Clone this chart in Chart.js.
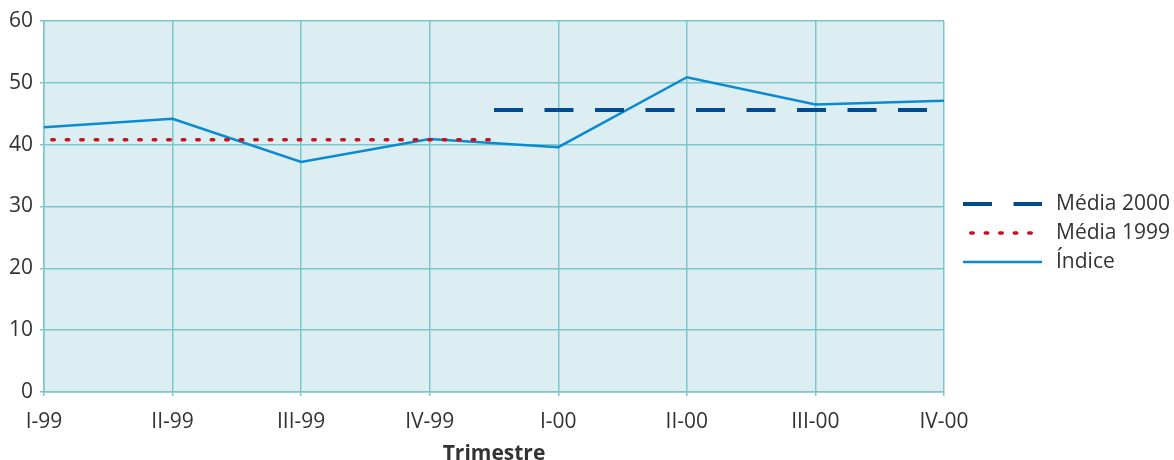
<!DOCTYPE html>
<html>
<head>
<meta charset="utf-8">
<script src="https://cdn.jsdelivr.net/npm/chart.js@4"></script>
<style>
  html, body { margin: 0; padding: 0; background: #ffffff; }
  #wrap { width: 1174px; height: 460px; }
</style>
</head>
<body>
<div id="wrap"><canvas id="chart" width="1174" height="460"></canvas></div>
<script>
/* Índice trimestral 1999-2000 com as médias anuais */

var quarters = ['I-99', 'II-99', 'III-99', 'IV-99', 'I-00', 'II-00', 'III-00', 'IV-00'];
var indice = [42.8, 44.2, 37.2, 40.9, 39.6, 50.9, 46.5, 47.1];
var media1999 = 40.8;
var media2000 = 45.6;
// each average spans its year, split halfway between IV-99 and I-00
var span1999 = [0, 3.5];
var span2000 = [3.5, 7];
var yTicks = [0, 10, 20, 30, 40, 50, 60];

var FONT = '"Open Sans", "DejaVu Sans", sans-serif';
var TEXT = '#333333';
var GRID = '#7cc5ca';

var plotBg = {
  id: 'plotBg',
  beforeDraw: function(chart) {
    var a = chart.chartArea, ctx = chart.ctx;
    ctx.save();
    ctx.fillStyle = '#ddeef2';
    ctx.fillRect(a.left, a.top, a.right - a.left, a.bottom - a.top);
    ctx.restore();
  }
};

// line-sample legend on the right, drawn from each dataset's own style
var sideLegend = {
  id: 'sideLegend',
  afterDraw: function(chart) {
    var ctx = chart.ctx;
    var x0 = 963, len = 79, y0 = 204, step = 29;
    ctx.save();
    chart.data.datasets.forEach(function(ds, i) {
      var y = y0 + i * step;
      ctx.beginPath();
      ctx.strokeStyle = ds.borderColor;
      ctx.lineWidth = ds.borderWidth;
      ctx.lineCap = ds.borderCapStyle || 'butt';
      ctx.setLineDash(ds.borderDash || []);
      ctx.lineDashOffset = ds.borderDashOffset || 0;
      ctx.moveTo(x0, y);
      ctx.lineTo(x0 + len, y);
      ctx.stroke();
      ctx.setLineDash([]);
      ctx.fillStyle = TEXT;
      ctx.font = '21px ' + FONT;
      ctx.textBaseline = 'middle';
      ctx.textAlign = 'left';
      ctx.fillText(ds.label, 1056, y);
    });
    ctx.restore();
  }
};

new Chart(document.getElementById('chart'), {
  type: 'line',
  data: {
    datasets: [
      {
        label: 'Média 2000',
        data: span2000.map(function(x) { return {x: x, y: media2000}; }),
        borderColor: '#004b8d', borderWidth: 4, borderDash: [29, 21.5],
        borderCapStyle: 'butt', pointRadius: 0, fill: false
      },
      {
        label: 'Média 1999',
        data: span1999.map(function(x) { return {x: x, y: media1999}; }),
        borderColor: '#c0141f', borderWidth: 3.5, borderDash: [2.5, 12], borderDashOffset: 6.75,
        borderCapStyle: 'round', pointRadius: 0, fill: false
      },
      {
        label: 'Índice',
        data: indice.map(function(v, i) { return {x: i, y: v}; }),
        borderColor: '#0a8ad2', borderWidth: 2.5,
        pointRadius: 0, fill: false, tension: 0
      }
    ]
  },
  options: {
    responsive: false,
    animation: false,
    layout: {padding: {top: 21, right: 230, left: 0, bottom: 0}},
    plugins: {legend: {display: false}, tooltip: {enabled: false}},
    scales: {
      x: {
        type: 'linear', min: 0, max: 7,
        afterFit: function(s) { s.height = 68; },
        afterBuildTicks: function(s) { s.ticks = quarters.map(function(q, i) { return {value: i}; }); },
        grid: {color: GRID, lineWidth: 1.5, tickLength: 4, drawTicks: true},
        border: {color: GRID, width: 1.5},
        ticks: {
          color: TEXT, font: {family: FONT, size: 21}, padding: 13, maxRotation: 0, autoSkip: false,
          callback: function(v) { return quarters[v]; }
        },
        title: {display: true, text: 'Trimestre', color: TEXT, font: {family: FONT, size: 21, weight: 'bold'}, padding: {top: 0, bottom: -7}}
      },
      y: {
        min: 0, max: 60,
        afterFit: function(s) { s.width = 44; },
        afterBuildTicks: function(s) { s.ticks = yTicks.map(function(v) { return {value: v}; }); },
        grid: {color: GRID, lineWidth: 1.5, tickLength: 4},
        border: {color: GRID, width: 1.5},
        ticks: {color: TEXT, font: {family: FONT, size: 21}, padding: 7}
      }
    }
  },
  plugins: [plotBg, sideLegend]
});
</script>
</body>
</html>
